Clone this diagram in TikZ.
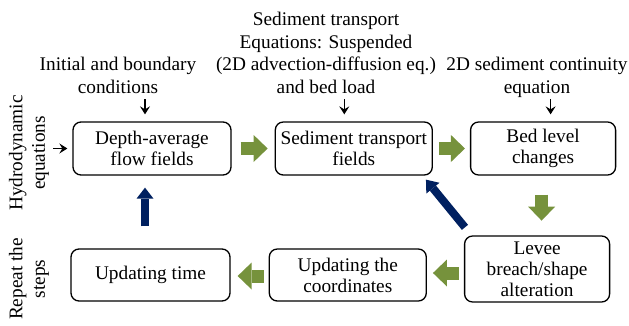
\documentclass[tikz,border=0pt]{standalone}
\usepackage{fontspec}
\setmainfont{Liberation Serif}
\usepackage{tikz}
\usetikzlibrary{arrows.meta, positioning, calc}
\definecolor{leafgreen}{RGB}{118,146,60}
\definecolor{navyblue}{RGB}{0,32,96}
\tikzset{%
	flow box/.style={
		draw,
		rounded corners=8pt,
		line width=1.3pt,
		align=center,
		inner sep=0pt,
		minimum height=53pt,
		font=\fontsize{19.3}{21}\selectfont
	},
	side label/.style={
		align=center,
		inner sep=0pt,
		font=\fontsize{19.3}{22.5}\selectfont
	},
	thin arrow/.style={
		line width=1.3pt,
		-{Stealth[length=8pt, width=10pt, inset=3pt]}
	},
	green arrow/.style={
		draw=leafgreen,
		line width=13pt,
		-{Triangle[length=14pt, width=27pt, line width=0pt]}
	},
	blue arrow/.style={
		draw=navyblue,
		line width=8pt,
		-{Triangle[length=11pt, width=17pt, line width=0pt]}
	},
}
\begin{document}
\begin{tikzpicture}[x=1pt, y=1pt]
	\useasboundingbox (0,0) rectangle (629,325);
	% top row
	\node[flow box, minimum width=158pt] (flow) at (152,176.5) {Depth-average\\flow fields};
	\node[flow box, minimum width=157pt, right=43pt of flow] (sed) {Sediment transport\\fields};
	\node[flow box, minimum width=145pt, right=37pt of sed] (bed) {Bed level\\changes};
	% bottom row
	\node[flow box, minimum width=159pt, minimum height=52pt] (time) at (150.5,50) {Updating time};
	\node[flow box, minimum width=157pt, minimum height=52pt, right=38pt of time] (coords) {Updating the\\coordinates};
	\node[flow box, minimum width=145pt, minimum height=66pt, right=37pt of coords, yshift=6pt] (levee) {Levee\\breach/shape\\alteration};

	% labels
	\node[side label, anchor=north] (initlbl) at (118,268) {Initial and boundary\\conditions};
	\node[side label, anchor=north] (sedlbl) at (326,313) {Sediment transport\\Equations: Suspended\\(2D advection-diffusion eq.)\\and bed load};
	\node[side label, anchor=north] (contlbl) at (537,268) {2D sediment continuity\\equation};
	\node[side label, rotate=90] (hydrolbl) at (29,172) {Hydrodynamic\\equations};
	\node[side label, rotate=90] (repeatlbl) at (29,46) {Repeat the\\steps};

	\draw[thin arrow] ([shift={(-7,22)}]flow.north) -- ([shift={(-7,7)}]flow.north);
	\draw[thin arrow] ([shift={(-9.5,22)}]sed.north) -- ([shift={(-9.5,7)}]sed.north);
	\draw[thin arrow] ([shift={(7.5,22)}]bed.north) -- ([shift={(7.5,7)}]bed.north);
	\draw[thin arrow] ([xshift=-19pt]flow.west) -- ([xshift=-5pt]flow.west);

	\draw[green arrow] ([xshift=9pt]flow.east) -- ([xshift=-7pt]sed.west);
	\draw[green arrow] ([xshift=6pt]sed.east) -- ([xshift=-5pt]bed.west);
	\draw[green arrow] ([shift={(-1.5,-19)}]bed.south) -- ([shift={(-1.5,-45)}]bed.south);
	\draw[green arrow] ([shift={(-5,-4)}]levee.west) -- ([shift={(6,2)}]coords.east);
	\draw[green arrow] ([shift={(-5,-1)}]coords.west) -- ([shift={(7,-1)}]time.east);

	\draw[blue arrow] ([shift={(-5.5,22)}]time.north) -- ([shift={(-7,-12)}]flow.south);
	\draw[blue arrow] ([shift={(1,8)}]levee.north west) -- ([shift={(-7,-4)}]sed.south east);
\end{tikzpicture}
\end{document}
